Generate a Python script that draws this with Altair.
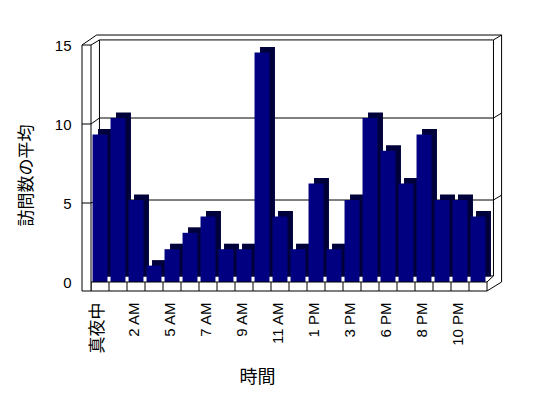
import altair as alt
import pandas as pd

# ---------------- data ----------------
hours = ["真夜中", "1 AM", "2 AM", "3 AM", "5 AM", "6 AM", "7 AM", "8 AM",
         "9 AM", "10 AM", "11 AM", "12 PM", "1 PM", "2 PM", "3 PM", "4 PM",
         "6 PM", "7 PM", "8 PM", "9 PM", "10 PM", "11 PM"]
visits = [9, 10, 5, 1, 2, 3, 4, 2, 2, 14, 4, 2, 6, 2, 5, 10, 8, 6, 9, 5, 5, 4]
y_ticks = [0, 5, 10, 15]
x_label_positions = list(range(0, len(hours), 2))

# ---------------- geometry (in data units) ----------------
PX_Y = 16.4          # px per value unit (back plane / bar fronts)
PX_Y_AX = 15.8       # px per value unit (front edge of left wall)
R = PX_Y_AX / PX_Y
W, H = 414, 255
XS = alt.Scale(domain=[-1.0, 22.0], nice=False, zero=False)
YS = alt.Scale(domain=[-9 / PX_Y, 15.0], nice=False, zero=False)
YS_AX = alt.Scale(domain=[-9 / PX_Y_AX, 246 / PX_Y_AX], nice=False, zero=False)

BL, BR = -0.03, 21.86      # back wall inner left/right
OL, OR = -0.19, 22.31      # back wall outer left/right
IT, OT = 14.76, 15.06      # back wall inner/outer top
FB, FF = 0.37, -9 / PX_Y   # floor back line, floor front bottom
HALF = 0.415               # half bar width
DEPTH = 5.5                # px of 3-D extrusion

segs = [
    (OL, OT, OR, OT), (BL, IT, BR, IT), (OR, OT, OR, 0), (BR, IT, BR, FB),
    (BL, IT, BL, FB), (-1.0, 15 * R, OL, OT), (-0.5, 15 * R, BL, IT),
    (BR, IT, OR, OT), (BL, FB, BR, FB), (BR, FB, 21.5, 0), (OR, 0, 21.5, FF),
]
for v in (5, 10):
    segs += [(BL, v, BR, v), (BR, v, OR, v + 0.3), (-0.5, v * R, BL, v)]
frame = pd.DataFrame(segs, columns=["x", "y", "x2", "y2"])

bars = pd.DataFrame({"idx": list(range(len(hours))), "hour": hours, "visits": visits})

floor = pd.DataFrame({"x": [-0.5], "x2": [21.5], "y": [FF], "y2": [0.0]})
dividers = pd.DataFrame({"x": [-0.5 + k for k in range(1, 22)]})
dividers["y"] = FF
dividers["y2"] = 0.0

wall = pd.DataFrame({"x": [-1.0], "x2": [-0.5], "y": [-9 / PX_Y_AX], "y2": [15.0]})
wall_ticks = pd.DataFrame({"x": [-1.0, -1.0], "x2": [-0.5, -0.5], "y": [5, 10]})

label_expr = "[" + ",".join("'%s'" % h for h in hours) + "][datum.value]"

LATIN = "Liberation Sans, Arial, Noto Sans CJK JP"
CJK = "Noto Sans CJK JP"

x_axis = alt.Axis(
    values=x_label_positions, labelExpr=label_expr, labelAngle=270,
    labelAlign="right", labelBaseline="middle", labelPadding=11, labelOffset=-3,
    labelFont=LATIN,
    labelFontSize={"condition": {"test": "datum.value === 0", "value": 17}, "value": 15},
    labelColor="black", labelOverlap=False,
    labelFlush=False, ticks=False, domain=False, grid=False,
    title="時間", titleFont=CJK, titleFontSize=18, titleFontWeight="normal",
    titleColor="black", titleX=175, titleY=86, titleBaseline="middle",
    titleAlign="center",
)
y_axis = alt.Axis(
    values=y_ticks, orient="left", ticks=False, domain=False, grid=False,
    labelPadding=11, labelFont=LATIN, labelFontSize=15, labelColor="black",
    title="訪問数の平均", titleFont=CJK, titleFontSize=17, titleFontWeight="normal",
    titleColor="black", titleAngle=270, titleX=-56, titleY=139,
    titleBaseline="middle", titleAlign="center",
)

frame_layer = alt.Chart(frame).mark_rule(color="black", strokeWidth=1).encode(
    x=alt.X("x:Q", scale=XS, axis=None), x2="x2",
    y=alt.Y("y:Q", scale=YS, axis=None), y2="y2",
)

bar_base = alt.Chart(bars).transform_calculate(
    x1="datum.idx - %f" % HALF, x2="datum.idx + %f" % HALF, y0="0"
)
side_layer = bar_base.mark_rect(
    color="#00003a", xOffset=DEPTH, x2Offset=DEPTH, yOffset=-DEPTH, y2Offset=-DEPTH
).encode(
    x=alt.X("x1:Q", scale=XS, axis=None), x2="x2:Q",
    y=alt.Y("visits:Q", scale=YS, axis=None), y2="y0:Q",
)
front_layer = bar_base.mark_rect(color="#000080").encode(
    x=alt.X("x1:Q", scale=XS, axis=x_axis), x2="x2:Q",
    y=alt.Y("visits:Q", scale=YS, axis=None), y2="y0:Q",
    tooltip=["hour", "visits"],
)

floor_layer = alt.Chart(floor).mark_rect(fill="white", stroke="black", strokeWidth=1).encode(
    x=alt.X("x:Q", scale=XS, axis=None), x2="x2",
    y=alt.Y("y:Q", scale=YS, axis=None), y2="y2",
)
div_layer = alt.Chart(dividers).mark_rule(color="black", strokeWidth=1).encode(
    x=alt.X("x:Q", scale=XS, axis=None),
    y=alt.Y("y:Q", scale=YS, axis=None), y2="y2",
)

wall_layer = alt.Chart(wall).mark_rect(fill="white", stroke="black", strokeWidth=1).encode(
    x=alt.X("x:Q", scale=XS, axis=None), x2="x2",
    y=alt.Y("y:Q", scale=YS_AX, axis=y_axis), y2="y2",
)
wall_tick_layer = alt.Chart(wall_ticks).mark_rule(color="black", strokeWidth=1).encode(
    x=alt.X("x:Q", scale=XS, axis=None), x2="x2",
    y=alt.Y("y:Q", scale=YS_AX, axis=None),
)

chart = alt.layer(
    frame_layer, side_layer, front_layer, floor_layer, div_layer,
    wall_layer, wall_tick_layer,
).resolve_scale(y="independent").resolve_axis(x="independent", y="independent").properties(
    width=W, height=H, autosize="none",
    padding={"left": 82, "top": 36, "right": 52, "bottom": 107},
    background="white",
).configure_view(stroke=None)

chart.save("out.html", embed_options={"renderer": "svg", "actions": False})
